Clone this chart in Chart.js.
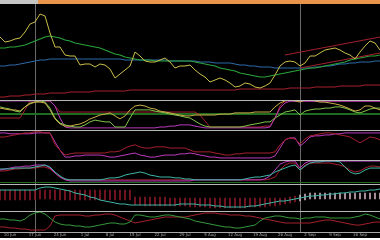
<!DOCTYPE html>
<html>
<head>
<meta charset="utf-8">
<script src="https://cdn.jsdelivr.net/npm/chart.js@4/dist/chart.umd.min.js"></script>
<style>
  html, body { margin: 0; padding: 0; background: #fff; }
  #bar { position: absolute; left: 0; top: 0; width: 380px; height: 4px; background: #e8944a; }
  #bar span { position: absolute; left: 0; top: 0; width: 38px; height: 4px; background: #c4c4c4; }
  #wrap { position: absolute; left: 0; top: 4px; width: 380px; height: 234px; background: #000; }
</style>
</head>
<body>
<div id="bar"><span></span></div>
<div id="wrap"><canvas id="chart" width="380" height="234"></canvas></div>
<script>
// trading days, one bar each (weekdays from 8 Jun)
const categories = [];
const MONTHS = ['Jan','Feb','Mar','Apr','May','Jun','Jul','Aug','Sep','Oct','Nov','Dec'];
for (let d = new Date(2020, 5, 8); categories.length < 77; d.setDate(d.getDate() + 1)) {
    if (d.getDay() === 0 || d.getDay() === 6) continue;
    categories.push(d.getDate() + ' ' + MONTHS[d.getMonth()]);
}

// main panel
const price = [62,57,58,60,61,67,75,77,85,83, 66,52,52,44,43,43,34,35,35,32,
    35,34,30,21,25,29,33,47,43,38, 37,37,39,41,37,31,33,33,34,29,
    25,22,17,19,21,19,16,12,13,16, 15,12,11,13,16,24,33,37,38,37,
    33,36,43,43,46,49,50,51,49,46, 44,40,47,53,58,56,49];
const maFast = [51,51,52,52,53,54,56,58,60,62, 63,62,61,59,58,56,55,54,53,52,
    51,49,47,45,44,42,41,40,39,39, 39,38,38,38,38,38,38,38,38,37,
    36,35,34,33,31,30,29,28,26,25, 24,23,22,22,23,24,25,26,27,28,
    29,30,31,31,32,33,34,35,36,37, 39,40,41,42,43,43,44];
const maMid = [33,33,34,34,35,36,37,38,39,39, 40,40,40,40,40,40,40,40,40,40,
    40,40,40,40,40,39,39,39,39,39, 39,39,39,39,38,38,38,38,38,38,
    37,37,37,36,36,36,36,35,34,34, 33,33,32,32,32,31,31,31,31,31,
    31,31,31,32,32,33,33,34,35,35, 36,36,37,37,37,38,38];
const maSlow = [2,2,3,3,3,4,4,5,5,5, 6,6,6,6,7,7,7,7,7,8,
    8,8,8,8,8,8,9,9,9,9, 9,9,9,9,9,9,9,9,9,9,
    9,9,9,9,9,9,9,9,10,10, 10,10,10,10,10,10,10,10,11,11,
    11,11,11,12,12,12,12,12,13,13, 13,13,13,14,14,14,14];
const channelUpper = [{ bar: 57, value: 44 }, { bar: 76, value: 62 }];
const channelLower = [{ bar: 60, value: 31 }, { bar: 76, value: 46 }];
const markerBars = [7, 60];

// panel 2
const stochK = [73,70,67,67,63,77,87,93,93,90, 67,37,20,13,13,17,20,27,37,43,
    50,53,57,47,37,47,67,80,83,80, 73,70,63,60,57,53,50,47,47,50,
    50,50,50,50,53,53,53,57,57,57, 57,60,60,60,60,77,90,97,100,97,
    93,100,100,97,93,93,90,87,83,77, 70,63,67,80,80,73,67];
const stochD = [77,73,70,63,60,77,90,93,97,93, 73,40,23,17,13,10,10,17,27,33,
    30,27,27,10,10,10,40,67,67,67, 67,63,60,57,53,50,47,43,40,30,
    20,13,10,10,10,10,10,10,10,13, 17,20,23,27,27,40,50,60,63,67,
    50,63,67,70,70,73,73,77,77,73, 67,60,57,63,70,73,73];
const stochSlow = [97,97,97,97,97,97,97,97,97,97, 97,80,40,10,7,7,7,7,7,7,
    7,7,7,7,7,7,7,7,7,7, 7,7,10,10,13,13,17,17,17,13,
    10,7,7,7,7,7,7,7,7,7, 7,7,7,7,10,40,73,90,96,96,
    96,96,96,96,96,96,96,96,96,96, 96,96,96,96,96,96,96];
const stochSignal = [40,40,40,40,40,67,97,97,97,97, 97,80,60,60,60,60,60,60,60,60,
    60,60,60,60,60,60,60,60,60,60, 60,60,60,60,60,60,60,60,60,60,
    50,30,10,10,10,10,10,10,10,10, 10,10,10,13,13,40,80,97,97,97,
    97,97,97,97,97,97,97,97,97,97, 97,97,97,97,97,97,97];
const stochLevels = [52];

// panel 3
const osc3Red = [79,79,83,86,90,93,93,97,97,93, 93,52,34,17,21,24,24,24,24,24,
    24,24,28,28,31,41,48,52,45,41, 41,45,45,45,41,41,41,41,34,28,
    28,28,28,24,21,17,17,21,21,24, 24,24,24,24,24,28,52,69,76,72,
    55,72,83,86,90,93,93,90,86,83, 79,69,59,69,79,76,69];
const osc3Pink = [93,93,90,90,90,90,90,93,93,93, 93,62,34,10,10,14,14,17,17,17,
    17,14,10,10,14,17,21,24,17,14, 10,10,14,17,17,17,21,21,24,21,
    17,14,10,10,7,7,7,7,7,7, 7,7,7,7,7,14,41,69,76,76,
    48,62,79,83,83,86,86,90,90,93, 93,93,93,93,93,93,93];

// panel 4
const osc4Teal = [64,64,64,68,68,68,68,73,77,82, 73,50,32,18,14,14,14,14,14,14,
    14,18,23,23,27,36,41,45,50,45, 36,32,27,27,27,23,23,18,18,14,
    14,14,14,14,14,14,14,14,14,18, 23,27,27,32,36,50,59,68,77,82,
    59,77,91,96,96,100,100,100,96,73, 50,41,45,59,68,68,68];
const osc4Pink = [59,64,68,73,73,77,77,82,82,82, 68,45,27,14,9,9,9,9,9,9,
    9,9,9,9,9,9,9,9,9,9, 9,9,9,9,9,9,9,9,9,14,
    14,14,14,14,14,14,14,14,14,14, 14,14,14,18,32,59,86,96,100,100,
    68,91,100,100,100,100,100,100,100,100, 100,100,100,100,100,100,100];
const osc4Red = [55,55,59,64,64,68,68,68,73,73, 64,45,27,18,14,14,14,14,14,14,
    14,14,14,14,14,14,14,14,14,14, 14,14,14,14,14,14,14,14,14,14,
    14,14,14,14,14,14,14,14,14,14, 14,14,14,14,18,27,59,82,91,91,
    59,82,91,91,91,91,91,86,82,73, 59,50,55,68,77,77,73];
const osc4Levels = [5];

// panel 5
const macdSignal = [0,0,0,0,0,0,0,0,0.2,0.3, 0.3,0.2,0.1,0,-0.1,-0.3,-0.4,-0.5,-0.7,-0.8,
    -1.0,-1.1,-1.2,-1.3,-1.4,-1.4,-1.5,-1.5,-1.5,-1.5, -1.5,-1.5,-1.5,-1.5,-1.5,-1.5,-1.4,-1.4,-1.4,-1.4,
    -1.5,-1.5,-1.5,-1.6,-1.6,-1.7,-1.7,-1.7,-1.7,-1.7, -1.6,-1.6,-1.5,-1.4,-1.3,-1.2,-1.1,-1.1,-1.0,-0.9,
    -0.8,-0.7,-0.6,-0.6,-0.5,-0.5,-0.4,-0.4,-0.3,-0.3, -0.2,-0.2,-0.1,-0.1,0,0,0.1];
const histHigh = [0,0,0,0,0,0,0,0,0,0, 0,0,0,0,0,0,0,0,0,0,
    0,0,0,0,0,0,0,-0.7,-0.7,-0.7, -0.7,-0.7,-0.7,-0.7,-0.8,-0.8,-0.8,-0.8,-0.8,-0.8,
    -0.8,-0.8,-0.8,-0.8,-0.8,-0.8,-0.8,-0.8,-0.8,-0.8, -0.8,-0.8,-0.8,-0.8,-0.8,-0.8,-0.8,-0.8,-0.7,-0.6,
    -0.5,-0.4,-0.3,-0.3,-0.3,-0.3,-0.3,-0.3,-0.3,-0.3, -0.3,-0.3,-0.3,-0.3,-0.3,-0.3,-0.3];
const histLow = [-1.0,-1.0,-1.0,-1.0,-1.0,-1.0,-1.0,-1.0,-0.9,-0.9, -0.9,-1.0,-1.0,-1.0,-1.0,-1.0,-1.0,-1.0,-1.0,-1.0,
    -1.0,-1.0,-1.0,-1.0,-1.0,-1.0,-1.0,-1.5,-1.5,-1.6, -1.6,-1.6,-1.6,-1.6,-1.6,-1.6,-1.6,-1.6,-1.7,-1.7,
    -1.7,-1.7,-1.8,-1.8,-1.8,-1.8,-1.8,-1.8,-1.8,-1.8, -1.7,-1.7,-1.7,-1.7,-1.6,-1.6,-1.5,-1.4,-1.3,-1.2,
    -1.1,-1.0,-0.9,-0.9,-0.9,-0.9,-0.9,-0.9,-0.9,-0.9, -0.9,-0.9,-0.9,-0.9,-0.9,-0.9,-0.9];

// panel 6
const dmiPlus = [65,65,60,60,55,65,85,95,100,90, 70,50,40,35,35,30,30,25,25,30,
    35,40,45,45,40,40,50,85,85,80, 75,75,80,85,85,80,75,70,65,55,
    50,45,40,35,30,25,25,20,20,25, 30,35,55,70,75,80,80,75,70,70,
    65,70,70,75,75,75,70,70,70,70, 70,75,80,90,85,75,65];
const dmiMinus = [25,25,20,20,15,15,10,10,10,10, 30,80,85,85,85,85,85,80,80,85,
    85,90,90,85,75,65,55,45,50,55, 60,65,70,75,75,75,75,75,80,85,
    90,95,95,95,90,90,85,85,85,80, 80,75,70,65,60,55,50,45,45,45,
    45,45,45,50,55,60,60,55,50,45, 40,35,35,40,45,50,50];

const COLORS = {
    price: '#c9bd4a',
    maFast: '#2ba23b',
    maMid: '#2d6aa8',
    red: '#a3202f',
    yellow: '#c9ad48',
    lime: '#7fc24c',
    pink: '#bb3abb',
    teal: '#3fb5a5',
    green: '#34983a',
    level: '#1f6b1f',
    barDown: '#861826',
    barUp: '#c9a9b9',
    separator: '#b8b8b8',
    marker: '#6a6a6a',
    axis: '#a8a8a8'
};

function line(data, yAxisID, color, width = 1) {
    return { type: 'line', data, yAxisID, borderColor: color, borderWidth: width,
        pointRadius: 0, tension: 0, fill: false, spanGaps: true };
}

function trend(points) {
    return points.map(p => ({ x: categories[p.bar], y: p.value }));
}

function panel(min, max, weight, stackWeight) {
    return {
        type: 'linear', position: 'right', stack: 'panels', weight, stackWeight, min, max,
        ticks: { display: false },
        grid: { display: false, drawTicks: false, tickLength: 0 },
        border: { display: false }
    };
}

const levelLines = [
    { axis: 'p2', values: stochLevels, color: COLORS.level, width: 2 },
    { axis: 'p4', values: osc4Levels, color: COLORS.level, width: 1 }
];

const panelDecor = {
    id: 'panelDecor',
    beforeDatasetsDraw(chart) {
        const { ctx, chartArea: a, scales } = chart;
        ctx.save();
        ctx.strokeStyle = COLORS.marker;
        ctx.lineWidth = 1;
        markerBars.forEach(i => {
            const x = Math.round(scales.x.getPixelForValue(i)) + 0.5;
            ctx.beginPath(); ctx.moveTo(x, 0); ctx.lineTo(x, a.bottom); ctx.stroke();
        });
        levelLines.forEach(l => {
            ctx.strokeStyle = l.color;
            ctx.lineWidth = l.width;
            l.values.forEach(v => {
                const y = Math.round(scales[l.axis].getPixelForValue(v)) + (l.width % 2 ? 0.5 : 0);
                ctx.beginPath(); ctx.moveTo(a.left, y); ctx.lineTo(a.right, y); ctx.stroke();
            });
        });
        ctx.restore();
    },
    afterDatasetsDraw(chart) {
        const { ctx, chartArea: a, scales } = chart;
        ctx.save();
        ctx.strokeStyle = COLORS.separator;
        ctx.lineWidth = 1;
        ['p2', 'p3', 'p4', 'p5', 'p6'].forEach(id => {
            const y = Math.round(scales[id].top) + 0.5;
            ctx.beginPath(); ctx.moveTo(a.left, y); ctx.lineTo(a.right, y); ctx.stroke();
        });
        ctx.restore();
    }
};

new Chart(document.getElementById('chart'), {
    type: 'line',
    data: {
        labels: categories,
        datasets: [
            line(price, 'y', COLORS.price),
            line(trend(channelUpper), 'y', COLORS.red),
            line(trend(channelLower), 'y', COLORS.red),
            line(maFast, 'y', COLORS.maFast, 1.2),
            line(maMid, 'y', COLORS.maMid),
            line(maSlow, 'y', COLORS.red),

            line(stochK, 'p2', COLORS.yellow),
            line(stochD, 'p2', COLORS.lime),
            line(stochSlow, 'p2', COLORS.pink),
            line(stochSignal, 'p2', COLORS.red),

            line(osc3Red, 'p3', COLORS.red),
            line(osc3Pink, 'p3', COLORS.pink),

            line(osc4Teal, 'p4', COLORS.teal),
            line(osc4Pink, 'p4', COLORS.pink),
            line(osc4Red, 'p4', COLORS.red),

            line(macdSignal, 'p5', COLORS.teal),
            {
                type: 'bar', yAxisID: 'p5', barThickness: 1, borderWidth: 0,
                data: histLow.map((lo, i) => [lo, histHigh[i]]),
                backgroundColor: ctx => ctx.dataIndex >= 60 ? COLORS.barUp : COLORS.barDown
            },

            line(dmiPlus, 'p6', COLORS.green),
            line(dmiMinus, 'p6', COLORS.red)
        ]
    },
    options: {
        responsive: false,
        animation: false,
        events: [],
        layout: { padding: { top: 1, left: 0, right: 0, bottom: 0 } },
        plugins: { legend: { display: false }, tooltip: { enabled: false } },
        scales: {
            x: {
                type: 'category', offset: false,
                grid: {
                    drawOnChartArea: false, drawTicks: true, tickLength: 1,
                    color: ctx => ctx.index % 2 ? 'rgba(0,0,0,0)' : '#8a8a8a'
                },
                border: { display: true, color: COLORS.axis },
                ticks: {
                    autoSkip: false, maxRotation: 0, padding: 0,
                    color: COLORS.axis,
                    font: { family: 'DejaVu Sans', size: 4 },
                    callback: (v, i) => i % 5 === 2 ? categories[i] : ''
                },
                afterFit: s => { s.height = 6; }
            },
            y: panel(-1, 94, 1, 95),
            p2: panel(0, 100, 2, 30),
            p3: panel(0, 103, 3, 30),
            p4: panel(-5, 105, 4, 24),
            p5: panel(-2.1, 0.6, 5, 27),
            p6: panel(0, 105, 6, 21)
        }
    },
    plugins: [panelDecor]
});
</script>
</body>
</html>
